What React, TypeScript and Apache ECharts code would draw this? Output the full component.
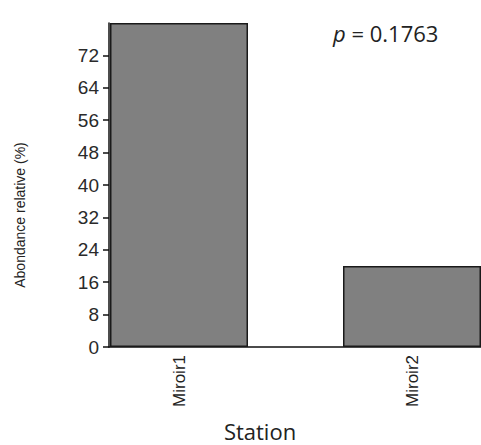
import React, { useEffect, useRef } from "react";
import * as echarts from "echarts";

const stations = ["Miroir1", "Miroir2"];
const abundance = [80, 20];
const yTicks = [0, 8, 16, 24, 32, 40, 48, 56, 64, 72];
const pValue = "0.1763";

export default function App() {
  const ref = useRef<HTMLDivElement>(null);

  useEffect(() => {
    if (!ref.current) return;
    const chart = echarts.init(ref.current, null, { renderer: "svg" });
    const top = 23;
    const bottom = 98;
    chart.setOption({
      animation: false,
      backgroundColor: "#ffffff",
      grid: [
        // category grid, wider than the frame so the bands sit where they should
        { left: 62.5, width: 466, top, bottom, outerBoundsMode: "none" },
        // frame grid holding the visible value axis and baseline
        { left: 109, right: 0, top, bottom, outerBoundsMode: "none" },
      ],
      xAxis: [
        {
          type: "category",
          gridIndex: 0,
          data: stations,
          axisLine: { show: false },
          axisTick: { show: false },
          axisLabel: {
            rotate: 90,
            margin: 8,
            fontFamily: "Liberation Sans",
            fontSize: 17,
            color: "#222",
          },
        },
        {
          type: "value",
          gridIndex: 1,
          min: 0,
          max: 1,
          axisLine: { show: true, onZero: false, lineStyle: { color: "#111", width: 1.5 } },
          axisTick: { show: false },
          axisLabel: { show: false },
          splitLine: { show: false },
        },
      ],
      yAxis: [
        {
          type: "value",
          gridIndex: 0,
          min: 0,
          max: 80,
          show: false,
          splitLine: { show: false },
        },
        {
          type: "value",
          gridIndex: 1,
          min: 0,
          max: 80,
          axisLine: { show: true, lineStyle: { color: "#111", width: 1.5 } },
          axisTick: {
            show: true,
            length: 6,
            customValues: yTicks,
            lineStyle: { color: "#111", width: 1.5 },
          },
          axisLabel: {
            customValues: yTicks,
            margin: 10,
            fontFamily: "Liberation Sans",
            fontSize: 19,
            color: "#2a2a2a",
          },
          splitLine: { show: false },
        },
      ],
      series: [
        {
          type: "bar",
          xAxisIndex: 0,
          yAxisIndex: 0,
          data: abundance,
          barWidth: 138,
          itemStyle: { color: "#808080", borderColor: "#1a1a1a", borderWidth: 1.5 },
          z: 3,
        },
      ],
      graphic: [
        {
          type: "text",
          x: 20,
          y: 215,
          rotation: Math.PI / 2,
          style: {
            text: "Abondance relative (%)",
            fontFamily: "Liberation Sans",
            fontSize: 14,
            fill: "#222",
            align: "center",
            verticalAlign: "middle",
          },
        },
        {
          type: "text",
          x: 260,
          y: 431,
          style: {
            text: "Station",
            fontFamily: "Open Sans",
            fontSize: 22,
            fill: "#222",
            align: "center",
            verticalAlign: "middle",
          },
        },
        {
          type: "text",
          x: 333,
          y: 33,
          style: {
            text: "{i|p} = " + pValue,
            fontFamily: "Open Sans",
            fontSize: 22,
            fill: "#222",
            align: "left",
            verticalAlign: "middle",
            rich: {
              i: { fontFamily: "Open Sans", fontStyle: "italic", fontSize: 22, fill: "#222" },
            },
          },
        },
      ],
    });
    return () => chart.dispose();
  }, []);

  return <div ref={ref} style={{ width: 481, height: 445, position: "absolute", left: 0, top: 0 }} />;
}
